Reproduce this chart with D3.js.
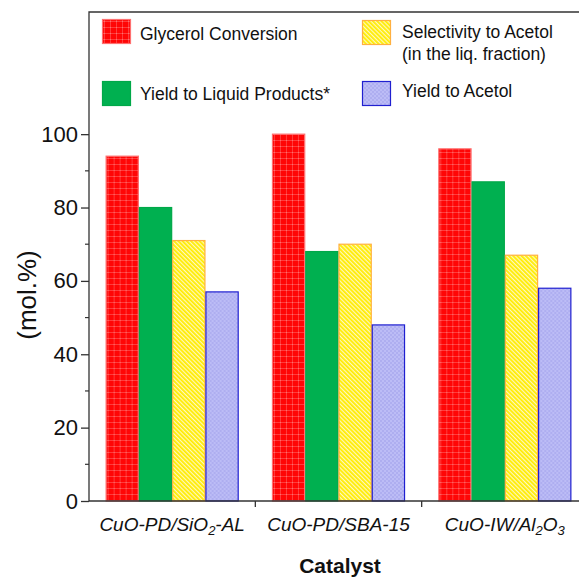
<!DOCTYPE html>
<html>
<head>
<meta charset="utf-8">
<script src="https://cdn.jsdelivr.net/npm/d3@7"></script>
<style>
  body { margin: 0; background: #fff; }
  svg { display: block; font-family: "Liberation Sans", Arial, sans-serif; }
</style>
</head>
<body>
<div id="chart"></div>
<script>
// data
const catalysts = ["CuO-PD/SiO2-AL", "CuO-PD/SBA-15", "CuO-IW/Al2O3"];
const seriesNames = ["Glycerol Conversion", "Yield to Liquid Products*", "Selectivity to Acetol", "Yield to Acetol"];
const glycerolConversion = [94, 100, 96];
const yieldLiquid = [80, 68, 87];
const selectivityAcetol = [71, 70, 67];
const yieldAcetol = [57, 48, 58];
const yTicks = [0, 20, 40, 60, 80, 100];
const yMinorTicks = [10, 30, 50, 70, 90];

const width = 579, height = 579;
const margin = { top: 12, right: -9, bottom: 78, left: 89 };

const svg = d3.select("#chart").append("svg")
    .attr("width", width)
    .attr("height", height);

const defs = svg.append("defs");

// red: small light grid
const pRed = defs.append("pattern").attr("id", "p-red")
    .attr("patternUnits", "userSpaceOnUse").attr("width", 6).attr("height", 6);
pRed.append("rect").attr("width", 6).attr("height", 6).attr("fill", "#ff0606");
pRed.append("rect").attr("x", 0).attr("y", 2).attr("width", 6).attr("height", 1).attr("fill", "#ff3c3c");
pRed.append("rect").attr("x", 2).attr("y", 0).attr("width", 1).attr("height", 6).attr("fill", "#ff3c3c");
pRed.append("rect").attr("x", 2).attr("y", 2).attr("width", 1).attr("height", 1).attr("fill", "#ff7070");

// yellow: diagonal hatch
const pYel = defs.append("pattern").attr("id", "p-yellow")
    .attr("patternUnits", "userSpaceOnUse").attr("width", 3).attr("height", 3)
    .attr("patternTransform", "rotate(-45)");
pYel.append("rect").attr("width", 3).attr("height", 3).attr("fill", "#fff8c0");
pYel.append("rect").attr("width", 1.8).attr("height", 3).attr("fill", "#ffec00");

// blue: fine checker
const pBlue = defs.append("pattern").attr("id", "p-blue")
    .attr("patternUnits", "userSpaceOnUse").attr("width", 4).attr("height", 4);
pBlue.append("rect").attr("width", 4).attr("height", 4).attr("fill", "#bcbcf6");
pBlue.append("rect").attr("width", 2).attr("height", 2).attr("fill", "#aeaef0");
pBlue.append("rect").attr("x", 2).attr("y", 2).attr("width", 2).attr("height", 2).attr("fill", "#aeaef0");

const fills = ["url(#p-red)", "#00b050", "url(#p-yellow)", "url(#p-blue)"];
const strokes = ["#ff7070", "#00a848", "#ffb040", "#2020d0"];

const data = catalysts.map((c, i) => ({
    cat: c,
    values: [glycerolConversion[i], yieldLiquid[i], selectivityAcetol[i], yieldAcetol[i]]
}));

const x0 = d3.scaleBand()
    .domain(catalysts)
    .range([margin.left, width - margin.right])
    .paddingInner(0.2)
    .paddingOuter(0.1);

const x1 = d3.scaleBand()
    .domain(d3.range(seriesNames.length))
    .range([0, x0.bandwidth()]);

const y = d3.scaleLinear()
    .domain([0, 133.3])
    .range([height - margin.bottom, margin.top]);

// bars
const groups = svg.selectAll(".group")
    .data(data)
    .enter().append("g")
    .attr("transform", d => `translate(${x0(d.cat)},0)`);

groups.selectAll("rect")
    .data(d => d.values.map((v, k) => ({ k, v })))
    .enter().append("rect")
    .attr("x", d => x1(d.k) + 0.5)
    .attr("y", d => y(d.v))
    .attr("width", x1.bandwidth() - 1)
    .attr("height", d => y(0) - y(d.v))
    .attr("fill", d => fills[d.k])
    .attr("stroke", d => strokes[d.k])
    .attr("stroke-width", 1.2);

// frame: left + top
svg.append("path")
    .attr("d", `M${margin.left},${y(0)}V${margin.top}H${width}`)
    .attr("fill", "none")
    .attr("stroke", "#333")
    .attr("stroke-width", 1.3);

// y axis
const yAxis = svg.append("g")
    .attr("transform", `translate(${margin.left},0)`)
    .call(d3.axisLeft(y).tickValues(yTicks).tickSize(8).tickPadding(3));
yAxis.select(".domain").remove();
yAxis.selectAll("line").attr("stroke", "#333").attr("stroke-width", 1.3);
yAxis.selectAll("text")
    .style("font-size", "22px")
    .style("font-family", "'Liberation Sans', Arial, sans-serif")
    .attr("fill", "#111");

svg.append("g").selectAll("line")
    .data(yMinorTicks)
    .enter().append("line")
    .attr("x1", margin.left - 4).attr("x2", margin.left)
    .attr("y1", d => y(d)).attr("y2", d => y(d))
    .attr("stroke", "#333").attr("stroke-width", 1.2);

// x axis line and group separators
svg.append("line")
    .attr("x1", margin.left).attr("x2", width)
    .attr("y1", y(0)).attr("y2", y(0))
    .attr("stroke", "#333").attr("stroke-width", 1.3);

const step = x0.step();
svg.append("g").selectAll("line")
    .data(catalysts.slice(1))
    .enter().append("line")
    .attr("x1", d => x0(d) - step * 0.1)
    .attr("x2", d => x0(d) - step * 0.1)
    .attr("y1", y(0)).attr("y2", y(0) + 6)
    .attr("stroke", "#333").attr("stroke-width", 1.3);

// category labels, digits after a letter become subscripts
const catLabels = svg.append("g").selectAll("text")
    .data(catalysts)
    .enter().append("text")
    .attr("x", d => x0(d) + x0.bandwidth() / 2)
    .attr("y", y(0) + 30)
    .attr("text-anchor", "middle")
    .style("font-size", "19px")
    .style("font-style", "italic")
    .attr("fill", "#111");

catLabels.each(function (d) {
    const t = d3.select(this);
    d.split(/(?<=[A-Za-z])(\d)/).filter(s => s !== "").forEach((p, i, arr) => {
        const sub = /^\d$/.test(p) && i > 0 && /[A-Za-z]$/.test(arr[i - 1]);
        if (sub) {
            t.append("tspan").attr("baseline-shift", "-28%").style("font-size", "13px").text(p);
        } else {
            t.append("tspan").text(p);
        }
    });
});

// axis titles
svg.append("text")
    .attr("transform", `translate(36,295) rotate(-90)`)
    .attr("text-anchor", "middle")
    .style("font-size", "26px")
    .attr("fill", "#111")
    .text("(mol.%)");

svg.append("text")
    .attr("x", 340)
    .attr("y", 573)
    .attr("text-anchor", "middle")
    .style("font-size", "21px")
    .style("font-weight", "bold")
    .attr("fill", "#111")
    .text("Catalyst");

// legend
const legendItems = [
    { k: 0, x: 102, y: 19, tx: 38, lines: ["Glycerol Conversion"], base: 21 },
    { k: 1, x: 102, y: 81, tx: 38, lines: ["Yield to Liquid Products*"], base: 19 },
    { k: 2, x: 362, y: 20, tx: 40, lines: ["Selectivity to Acetol", "(in the liq. fraction)"], base: 18 },
    { k: 3, x: 362, y: 81, tx: 40, lines: ["Yield to Acetol"], base: 16 }
];

const legend = svg.append("g").selectAll("g")
    .data(legendItems)
    .enter().append("g")
    .attr("transform", d => `translate(${d.x},${d.y})`);

legend.append("rect")
    .attr("x", 0.5).attr("y", 0.5)
    .attr("width", 28).attr("height", 24)
    .attr("fill", d => fills[d.k])
    .attr("stroke", d => strokes[d.k])
    .attr("stroke-width", 1.2);

legend.each(function (d) {
    const g = d3.select(this);
    d.lines.forEach((line, i) => {
        g.append("text")
            .attr("x", d.tx)
            .attr("y", d.base + i * 22)
            .style("font-size", "17.5px")
            .attr("fill", "#111")
            .text(line);
    });
});
</script>
</body>
</html>
